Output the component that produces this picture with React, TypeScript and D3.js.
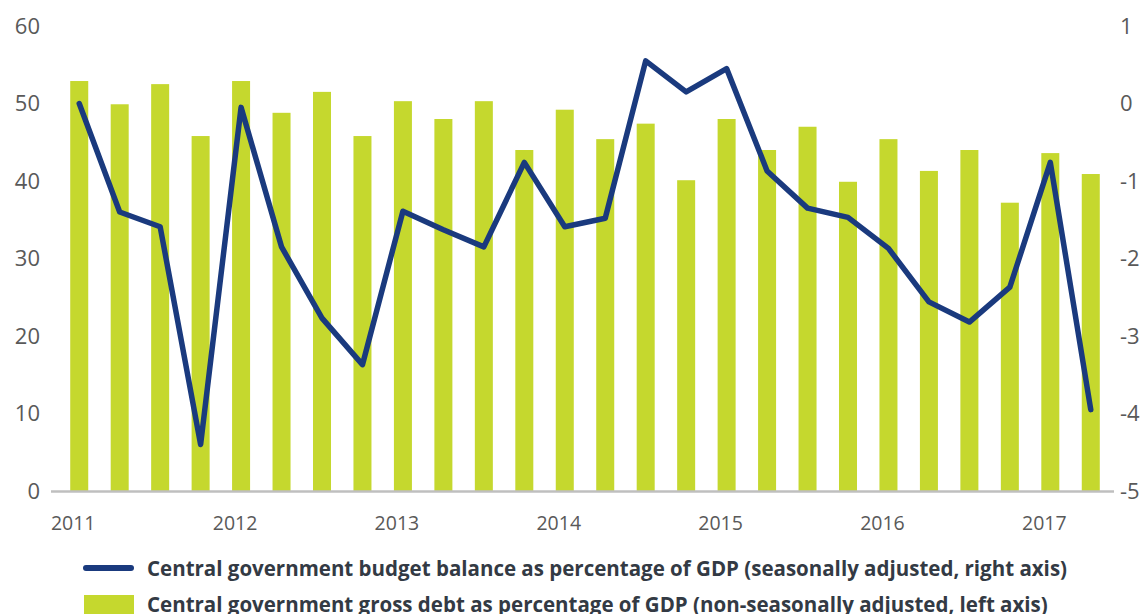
import React from "react";
import * as d3 from "d3";

const quarters = [
  "2011Q1","2011Q2","2011Q3","2011Q4",
  "2012Q1","2012Q2","2012Q3","2012Q4",
  "2013Q1","2013Q2","2013Q3","2013Q4",
  "2014Q1","2014Q2","2014Q3","2014Q4",
  "2015Q1","2015Q2","2015Q3","2015Q4",
  "2016Q1","2016Q2","2016Q3","2016Q4",
  "2017Q1","2017Q2",
];

const grossDebt = [
  52.9, 49.9, 52.5, 45.8,
  52.9, 48.8, 51.5, 45.8,
  50.3, 48.0, 50.3, 44.0,
  49.2, 45.4, 47.4, 40.1,
  48.0, 44.0, 47.0, 39.9,
  45.4, 41.3, 44.0, 37.2,
  43.6, 40.9,
];

const budgetBalance = [
  0.0, -1.40, -1.59, -4.40,
  -0.05, -1.85, -2.77, -3.37,
  -1.39, -1.63, -1.85, -0.76,
  -1.59, -1.48, 0.55, 0.15,
  0.45, -0.87, -1.35, -1.47,
  -1.87, -2.56, -2.82, -2.37,
  -0.76, -3.95,
];

const leftTicks = [0, 10, 20, 30, 40, 50, 60];
const rightTicks = [-5, -4, -3, -2, -1, 0, 1];
const years = ["2011", "2012", "2013", "2014", "2015", "2016", "2017"];

const lineLabel =
  "Central government budget balance as percentage of GDP (seasonally adjusted, right axis)";
const barLabel =
  "Central government gross debt as percentage of GDP (non-seasonally adjusted, left axis)";

const W = 1145;
const H = 614;
const FONT = "'Open Sans', 'Noto Sans', sans-serif";
const BAR = "#c5d82e";
const LINE = "#1a3a7e";
const AXIS_TXT = "#595959";

export default function App() {
  const x = d3
    .scaleBand<string>()
    .domain(quarters)
    .range([59, 1111])
    .paddingInner(0.555)
    .paddingOuter(0.2775);
  const yL = d3.scaleLinear().domain([0, 60]).range([491, 26]);
  const yR = d3.scaleLinear().domain([-5, 1]).range([491, 26]);
  const bw = x.bandwidth();
  const cx = (q: string) => (x(q) ?? 0) + bw / 2;

  const line = d3
    .line<number>()
    .x((_, i) => cx(quarters[i]))
    .y((d) => yR(d));

  return (
    <svg
      width={W}
      height={H}
      style={{ position: "absolute", left: 0, top: 0, background: "#fff" }}
      fontFamily={FONT}
    >
      {grossDebt.map((v, i) => (
        <rect
          key={quarters[i]}
          x={x(quarters[i])}
          y={yL(v)}
          width={bw}
          height={yL(0) - yL(v)}
          fill={BAR}
        />
      ))}
      <line x1={51} x2={1114} y1={yL(0) + 0.5} y2={yL(0) + 0.5} stroke="#bfbfbf" strokeWidth={2.5} />
      <path
        d={line(budgetBalance) ?? ""}
        fill="none"
        stroke={LINE}
        strokeWidth={5.5}
        strokeLinejoin="round"
        strokeLinecap="round"
      />
      {leftTicks.map((t) => (
        <text key={"l" + t} x={40} y={yL(t)} dy="0.36em" textAnchor="end" fontSize={22} fill={AXIS_TXT}>
          {t}
        </text>
      ))}
      {rightTicks.map((t) => (
        <text key={"r" + t} x={1120} y={yR(t)} dy="0.36em" textAnchor="start" fontSize={22} fill={AXIS_TXT}>
          {t}
        </text>
      ))}
      {years.map((yr, k) => (
        <text key={yr} x={cx(quarters[k * 4]) - 6} y={530} textAnchor="middle" fontSize={19.5} fill={AXIS_TXT}>
          {yr}
        </text>
      ))}
      <line x1={86} x2={131} y1={568} y2={568} stroke={LINE} strokeWidth={6} strokeLinecap="round" />
      <text x={147} y={575.5} fontSize={20.5} fontWeight="bold" fill="#333a44">
        {lineLabel}
      </text>
      <rect x={84} y={595} width={50} height={19} fill={BAR} />
      <text x={147} y={611.5} fontSize={20.5} fontWeight="bold" fill="#333a44">
        {barLabel}
      </text>
    </svg>
  );
}
